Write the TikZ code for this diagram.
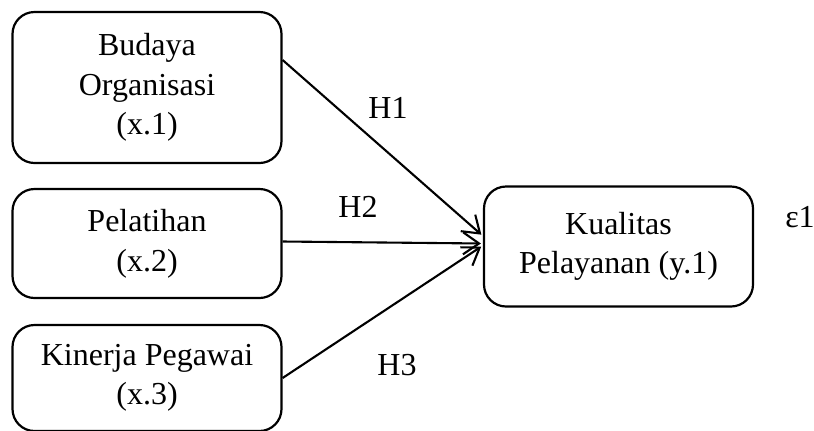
\documentclass[tikz,border=0pt]{standalone}
\usepackage{fontspec}
\setmainfont{Liberation Serif}
\usetikzlibrary{positioning,arrows.meta}

\begin{document}
\begin{tikzpicture}[
  x=0.5pt, y=-0.5pt,
  varbox/.style={rectangle, rounded corners=11pt, draw=black, line width=1.1pt, align=center, inner sep=0pt, font=\fontsize{16}{19.8}\selectfont},
  hyp-arrow/.style={-{Straight Barb[length=8pt,width=11pt]}, line width=1.05pt, shorten >=1pt},
  hyp-label/.style={font=\fontsize{16}{19.8}\selectfont}
]
  \useasboundingbox (0,0) rectangle (814,430);

  \node (budaya) at (147,87.5) [varbox, minimum width=134.5pt, minimum height=75.5pt] {Budaya\\Organisasi\\(x.1)};
  \node (pelatihan) at (147,243.5) [varbox, minimum width=134.5pt, minimum height=54.5pt] {Pelatihan\\(x.2)};
  \node (kinerja) at (147,378) [varbox, minimum width=134.5pt, minimum height=53pt] {Kinerja Pegawai\\(x.3)};
  \node (kualitas) at (618.5,246.5) [varbox, minimum width=134.5pt, minimum height=60pt] {Kualitas\\Pelayanan (y.1)};
  \node (eps) at (800,217) [hyp-label] {ε1};

  \draw[hyp-arrow] ([yshift=13.75pt]budaya.east) -- ([yshift=5.25pt]kualitas.west) node (h1) at (388,108) [hyp-label] {H1};
  \draw[hyp-arrow] ([yshift=1pt]pelatihan.east) -- ([yshift=1.5pt]kualitas.west) node (h2) at (358,207) [hyp-label] {H2};
  \draw[hyp-arrow] (kinerja.east) -- ([yshift=0.5pt]kualitas.west) node (h3) at (397,365) [hyp-label] {H3};

\end{tikzpicture}
\end{document}
